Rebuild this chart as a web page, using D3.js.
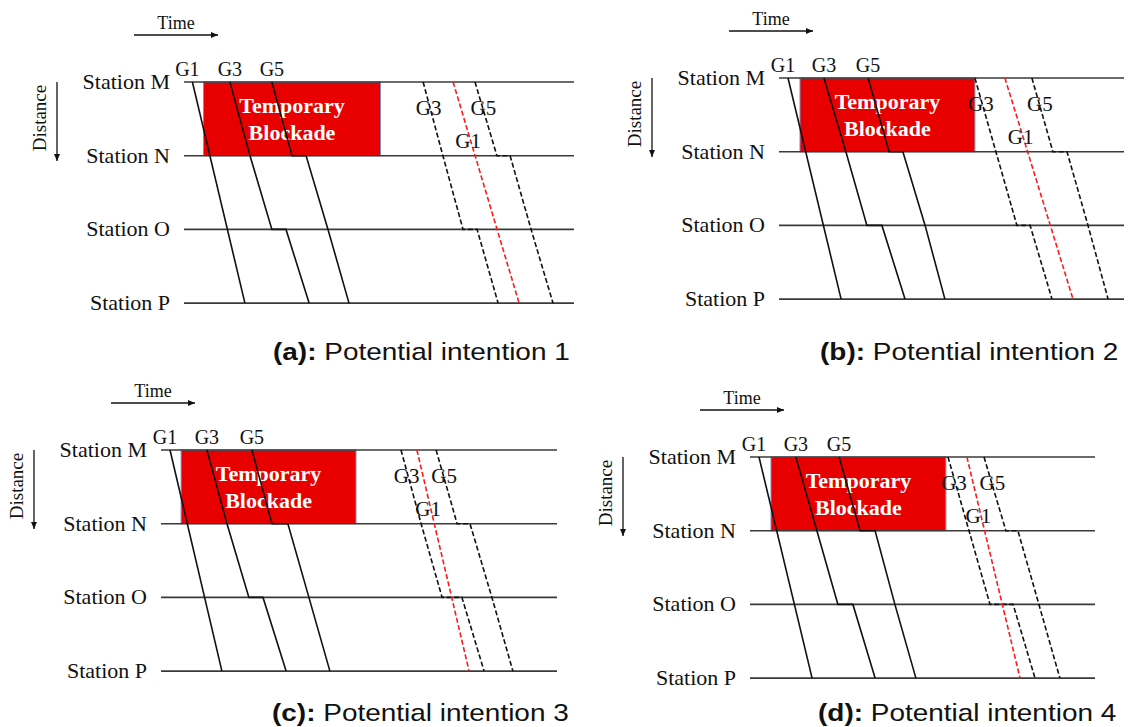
<!DOCTYPE html>
<html>
<head>
<meta charset="utf-8">
<script src="https://cdn.jsdelivr.net/npm/d3@7"></script>
<style>
  body { margin: 0; background: #fff; }
  svg { display: block; }
  .serif { font-family: "Liberation Serif", "Times New Roman", serif; fill: #111; }
  .caption { font-family: "Liberation Sans", Arial, sans-serif; font-size: 24px; fill: #111; }
</style>
</head>
<body>
<div id="chart"></div>
<script>
// DATA ---------------------------------------------------------------------
const stations = ["Station M", "Station N", "Station O", "Station P"];
const panelTags = ["(a):", "(b):", "(c):", "(d):"];
const captions = ["Potential intention 1", "Potential intention 2", "Potential intention 3", "Potential intention 4"];

// time span of each panel (minutes) and the blockade window on section M-N
const timeSpan = [130, 115, 132, 115];
const blockade = [[6.5, 65.5], [7, 65.3], [6.7, 65], [7, 65.3]];

// trains as [station index, time] points; repeated station = dwell
const planA = [
  {name: "G1", stops: [[0, 2.8], [3, 20.3]]},
  {name: "G3", stops: [[0, 15.3], [1, 22], [2, 29.3], [2, 34], [3, 41.7]]},
  {name: "G5", stops: [[0, 29.3], [1, 36], [1, 40.7], [2, 48], [3, 55]]}
];
const planB = [
  {name: "G1", stops: [[0, 3], [3, 20.7]]},
  {name: "G3", stops: [[0, 15], [1, 22.3], [2, 29.3], [2, 34.3], [3, 42]]},
  {name: "G5", stops: [[0, 29.7], [1, 36.7], [1, 41.3], [2, 48.7], [3, 55.3]]}
];
const planC = [
  {name: "G1", stops: [[0, 3], [3, 20.3]]},
  {name: "G3", stops: [[0, 15.3], [1, 22], [2, 29.3], [2, 34], [3, 41.7]]},
  {name: "G5", stops: [[0, 30.3], [1, 37], [1, 42.3], [2, 49.3], [3, 56.3]]}
];
const planD = [
  {name: "G1", stops: [[0, 3], [3, 20.7]]},
  {name: "G3", stops: [[0, 15.3], [1, 22.3], [2, 29.3], [2, 34.3], [3, 41.7]]},
  {name: "G5", stops: [[0, 29.7], [1, 36.7], [1, 41.7], [2, 48.3], [3, 55.3]]}
];

// possible adjusted trains after the blockade (G1 is the red one)
const intentA = [
  {name: "G3", stops: [[0, 79.7], [1, 86.3], [2, 93], [2, 97.7], [3, 104.7]]},
  {name: "G1", stops: [[0, 89.7], [3, 111.7]]},
  {name: "G5", stops: [[0, 97], [1, 104.3], [1, 108.7], [2, 115.7], [3, 123]]}
];
const intentB = [
  {name: "G3", stops: [[0, 65.3], [1, 72.3], [2, 79.3], [2, 83.7], [3, 91]]},
  {name: "G1", stops: [[0, 75.3], [3, 98]]},
  {name: "G5", stops: [[0, 84.3], [1, 91.3], [1, 96], [2, 103], [3, 109.7]]}
];
const intentC = [
  {name: "G3", stops: [[0, 80], [1, 86.7], [2, 93.7], [2, 100.3], [3, 107.7]]},
  {name: "G1", stops: [[0, 85.3], [3, 102.7]]},
  {name: "G5", stops: [[0, 91.7], [1, 98.7], [1, 103], [2, 110.3], [3, 117.3]]}
];
const intentD = [
  {name: "G3", stops: [[0, 66], [1, 73], [2, 80], [2, 87.7], [3, 95]]},
  {name: "G1", stops: [[0, 72.3], [3, 90]]},
  {name: "G5", stops: [[0, 78], [1, 85.3], [1, 89.3], [2, 96.3], [3, 103.3]]}
];

const plans = [planA, planB, planC, planD];
const intents = [intentA, intentB, intentC, intentD];

// LAYOUT -------------------------------------------------------------------
const width = 1129, height = 727;
const minPx = 3;                 // px per minute
const panels = [
  {x0: 184, yTop: 82,  capX: 273, capY: 360},
  {x0: 779, yTop: 78,  capX: 820, capY: 360},
  {x0: 161, yTop: 450, capX: 272, capY: 721},
  {x0: 750, yTop: 457, capX: 818, capY: 721}
];
const sectionPx = 73.7;

const svg = d3.select('#chart')
  .append('svg')
  .attr('width', width)
  .attr('height', height);

const defs = svg.append('defs');
defs.append('marker')
  .attr('id', 'arrow')
  .attr('markerUnits', 'userSpaceOnUse')
  .attr('markerWidth', 8).attr('markerHeight', 8)
  .attr('refX', 7).attr('refY', 3)
  .attr('orient', 'auto')
  .append('path')
  .attr('d', 'M0,0 L7,3 L0,6 Z')
  .attr('fill', '#111');

panels.forEach((p, i) => {
  const g = svg.append('g');

  // scales
  const x = d3.scaleLinear()
    .domain([0, timeSpan[i]])
    .range([p.x0, p.x0 + timeSpan[i] * minPx]);
  const y = d3.scalePoint()
    .domain(stations)
    .range([p.yTop, p.yTop + sectionPx * (stations.length - 1)]);

  const line = d3.line()
    .x(d => x(d[1]))
    .y(d => y(stations[d[0]]));

  // blockade box
  g.append('rect')
    .attr('x', x(blockade[i][0]))
    .attr('y', y(stations[0]))
    .attr('width', x(blockade[i][1]) - x(blockade[i][0]))
    .attr('height', y(stations[1]) - y(stations[0]))
    .attr('fill', '#e80000')
    .attr('stroke', '#7d8cc4')
    .attr('stroke-width', 1);

  const cx = (x(blockade[i][0]) + x(blockade[i][1])) / 2;
  const cy = (y(stations[0]) + y(stations[1])) / 2;
  g.append('text').attr('class', 'serif')
    .attr('x', cx).attr('y', cy - 6)
    .attr('text-anchor', 'middle')
    .style('font-size', '22px').style('font-weight', 'bold').style('fill', '#fff')
    .text('Temporary');
  g.append('text').attr('class', 'serif')
    .attr('x', cx).attr('y', cy + 21)
    .attr('text-anchor', 'middle')
    .style('font-size', '22px').style('font-weight', 'bold').style('fill', '#fff')
    .text('Blockade');

  // station lines + labels
  g.selectAll('.station')
    .data(stations)
    .join('line')
    .attr('x1', x.range()[0]).attr('x2', x.range()[1])
    .attr('y1', d => y(d)).attr('y2', d => y(d))
    .attr('stroke', '#3a3a3a')
    .attr('stroke-width', 1.6);

  g.selectAll('.stationLabel')
    .data(stations)
    .join('text')
    .attr('class', 'serif')
    .attr('x', p.x0 - 14)
    .attr('y', d => y(d) + 7)
    .attr('text-anchor', 'end')
    .style('font-size', '22px')
    .text(d => d);

  // planned trains (solid)
  g.selectAll('.plan')
    .data(plans[i])
    .join('path')
    .attr('d', d => line(d.stops))
    .attr('fill', 'none')
    .attr('stroke', '#111')
    .attr('stroke-width', 1.6);

  g.selectAll('.planLabel')
    .data(plans[i])
    .join('text')
    .attr('class', 'serif')
    .attr('x', d => x(d.stops[0][1]) + (d.name === 'G1' ? -5 : 0))
    .attr('y', y(stations[0]) - 6)
    .attr('text-anchor', 'middle')
    .style('font-size', '20px')
    .text(d => d.name);

  // adjusted trains (dashed)
  g.selectAll('.intent')
    .data(intents[i])
    .join('path')
    .attr('d', d => line(d.stops))
    .attr('fill', 'none')
    .attr('stroke', d => d.name === 'G1' ? '#ff1a1a' : '#111')
    .attr('stroke-width', 1.6)
    .attr('stroke-dasharray', '5,2.5');

  // labels sit on the M-N section of each dashed train
  const labelPos = {G3: {f: 0.45, dx: -2}, G5: {f: 0.45, dx: 0}, G1: {f: 0.89, dx: -3}};
  g.selectAll('.intentLabel')
    .data(intents[i])
    .join('text')
    .attr('class', 'serif')
    .attr('x', d => {
      const lp = labelPos[d.name];
      const t0 = d.stops[0][1];
      const t1 = d.stops.find(s => s[0] >= 1);
      const tN = t1[1] - (t1[1] - t0) * (t1[0] - 1) / t1[0];
      const f = lp.f - 5 / sectionPx;
      return x(t0 + (tN - t0) * f) + lp.dx;
    })
    .attr('y', d => y(stations[0]) + sectionPx * labelPos[d.name].f)
    .attr('text-anchor', 'middle')
    .style('font-size', '21px')
    .text(d => d.name);

  // Time arrow
  const ty = y(stations[0]);
  g.append('text').attr('class', 'serif')
    .attr('x', p.x0 - 8).attr('y', ty - 53)
    .attr('text-anchor', 'middle')
    .style('font-size', '18px')
    .text('Time');
  g.append('line')
    .attr('x1', p.x0 - 50).attr('x2', p.x0 + 34)
    .attr('y1', ty - 47).attr('y2', ty - 47)
    .attr('stroke', '#111').attr('stroke-width', 1.3)
    .attr('marker-end', 'url(#arrow)');

  // Distance arrow
  g.append('text').attr('class', 'serif')
    .attr('transform', `translate(${p.x0 - 138},${ty + 36}) rotate(-90)`)
    .attr('text-anchor', 'middle')
    .style('font-size', '19px')
    .text('Distance');
  g.append('line')
    .attr('x1', p.x0 - 127).attr('x2', p.x0 - 127)
    .attr('y1', ty).attr('y2', ty + 79)
    .attr('stroke', '#111').attr('stroke-width', 1.3)
    .attr('marker-end', 'url(#arrow)');

  // caption (reference text is slightly stretched horizontally)
  const cap = svg.append('text')
    .attr('class', 'caption')
    .attr('transform', `translate(${p.capX},${p.capY}) scale(1.165,1)`);
  cap.append('tspan').style('font-weight', 'bold').text(panelTags[i]);
  cap.append('tspan').text(' ' + captions[i]);
});
</script>
</body>
</html>
